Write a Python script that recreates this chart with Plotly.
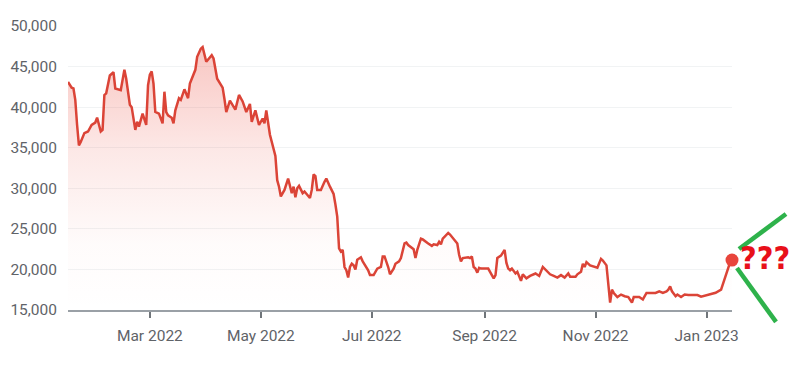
import plotly.graph_objects as go

dates = [
    "2022-01-15", "2022-01-17", "2022-01-18", "2022-01-19", "2022-01-20", "2022-01-21", "2022-01-22", "2022-01-24",
    "2022-01-26", "2022-01-28", "2022-01-30", "2022-01-31", "2022-02-02", "2022-02-03", "2022-02-04", "2022-02-05",
    "2022-02-07", "2022-02-09", "2022-02-10", "2022-02-13", "2022-02-15", "2022-02-16", "2022-02-18", "2022-02-19",
    "2022-02-21", "2022-02-22", "2022-02-23", "2022-02-25", "2022-02-27", "2022-02-28", "2022-03-01", "2022-03-02",
    "2022-03-03", "2022-03-04", "2022-03-06", "2022-03-08", "2022-03-09", "2022-03-10", "2022-03-11", "2022-03-13",
    "2022-03-14", "2022-03-15", "2022-03-17", "2022-03-18", "2022-03-20", "2022-03-22", "2022-03-23", "2022-03-25",
    "2022-03-26", "2022-03-27", "2022-03-29", "2022-03-30", "2022-04-01", "2022-04-04", "2022-04-05", "2022-04-07",
    "2022-04-08", "2022-04-10", "2022-04-11", "2022-04-12", "2022-04-14", "2022-04-16", "2022-04-17", "2022-04-19",
    "2022-04-21", "2022-04-23", "2022-04-25", "2022-04-26", "2022-04-28", "2022-04-30", "2022-05-02", "2022-05-03",
    "2022-05-04", "2022-05-06", "2022-05-07", "2022-05-09", "2022-05-10", "2022-05-11", "2022-05-12", "2022-05-14",
    "2022-05-16", "2022-05-18", "2022-05-19", "2022-05-20", "2022-05-21", "2022-05-22", "2022-05-24", "2022-05-25",
    "2022-05-28", "2022-05-29", "2022-05-30", "2022-05-31", "2022-06-01", "2022-06-03", "2022-06-05", "2022-06-06",
    "2022-06-08", "2022-06-09", "2022-06-10", "2022-06-11", "2022-06-12", "2022-06-13", "2022-06-14", "2022-06-15",
    "2022-06-16", "2022-06-17", "2022-06-18", "2022-06-19", "2022-06-20", "2022-06-21", "2022-06-22", "2022-06-23",
    "2022-06-25", "2022-06-26", "2022-06-28", "2022-06-29", "2022-06-30", "2022-07-02", "2022-07-04", "2022-07-06",
    "2022-07-07", "2022-07-08", "2022-07-10", "2022-07-11", "2022-07-13", "2022-07-14", "2022-07-16", "2022-07-17",
    "2022-07-19", "2022-07-20", "2022-07-21", "2022-07-23", "2022-07-24", "2022-07-25", "2022-07-26", "2022-07-28",
    "2022-07-29", "2022-08-01", "2022-08-03", "2022-08-04", "2022-08-06", "2022-08-07", "2022-08-08", "2022-08-09",
    "2022-08-11", "2022-08-12", "2022-08-13", "2022-08-15", "2022-08-17", "2022-08-18", "2022-08-19", "2022-08-20",
    "2022-08-23", "2022-08-24", "2022-08-25", "2022-08-26", "2022-08-27", "2022-08-28", "2022-08-29", "2022-08-30",
    "2022-09-01", "2022-09-03", "2022-09-04", "2022-09-06", "2022-09-07", "2022-09-08", "2022-09-10", "2022-09-12",
    "2022-09-13", "2022-09-14", "2022-09-15", "2022-09-16", "2022-09-18", "2022-09-19", "2022-09-21", "2022-09-22",
    "2022-09-24", "2022-09-26", "2022-09-29", "2022-10-01", "2022-10-03", "2022-10-05", "2022-10-07", "2022-10-09",
    "2022-10-11", "2022-10-13", "2022-10-15", "2022-10-17", "2022-10-18", "2022-10-21", "2022-10-22", "2022-10-24",
    "2022-10-25", "2022-10-26", "2022-10-27", "2022-10-29", "2022-10-31", "2022-11-02", "2022-11-04", "2022-11-05",
    "2022-11-07", "2022-11-08", "2022-11-09", "2022-11-10", "2022-11-11", "2022-11-13", "2022-11-15", "2022-11-17",
    "2022-11-19", "2022-11-21", "2022-11-22", "2022-11-23", "2022-11-25", "2022-11-27", "2022-11-29", "2022-12-01",
    "2022-12-02", "2022-12-04", "2022-12-06", "2022-12-08", "2022-12-10", "2022-12-11", "2022-12-12", "2022-12-13",
    "2022-12-15", "2022-12-16", "2022-12-18", "2022-12-20", "2022-12-22", "2022-12-24", "2022-12-27", "2022-12-29",
    "2023-01-01", "2023-01-03", "2023-01-06", "2023-01-09", "2023-01-10", "2023-01-12", "2023-01-13", "2023-01-14",
    "2023-01-15",
]

prices = [
    43100, 42400, 42300, 40900, 37800, 35300, 35700, 36800,
    37000, 37800, 38100, 38700, 37000, 37200, 41500, 41700,
    43900, 44300, 42300, 42100, 44600, 43500, 40300, 40000,
    37200, 38200, 37600, 39200, 37800, 42700, 44000, 44400,
    42900, 39400, 39200, 38000, 41900, 39400, 39000, 38700,
    38000, 39600, 41100, 40900, 42200, 41100, 42900, 44200,
    44600, 46200, 47200, 47400, 45600, 46400, 46000, 43500,
    43100, 42400, 41000, 39400, 40800, 40100, 39700, 41500,
    40700, 39400, 40400, 38200, 39600, 37800, 38600, 38000,
    39600, 36600, 35800, 34000, 31000, 30200, 29000, 29800,
    31200, 29400, 30200, 28900, 30000, 30300, 29400, 29600,
    28800, 29800, 31700, 31500, 29800, 29800, 30800, 31200,
    30200, 29800, 29300, 28000, 26500, 22600, 22200, 22400,
    20300, 19900, 19000, 20300, 20700, 20500, 20000, 21200,
    21500, 21000, 20300, 19900, 19300, 19300, 20100, 20300,
    21600, 21600, 20300, 19400, 20100, 20700, 21000, 21400,
    23200, 23300, 23000, 22700, 22500, 21400, 22400, 23800,
    23700, 23200, 22900, 23100, 23000, 23400, 23100, 23800,
    24200, 24500, 24300, 23800, 23200, 21800, 21000, 21400,
    21500, 21400, 21600, 20300, 20100, 19600, 20200, 20100,
    20100, 20100, 19700, 18900, 19300, 21400, 21700, 22400,
    20800, 20100, 19900, 20100, 19500, 19700, 18600, 19400,
    18900, 19200, 19500, 19200, 20300, 19900, 19400, 19200,
    19000, 19300, 19000, 19500, 19100, 19100, 19400, 19700,
    20700, 20300, 20900, 20500, 20300, 20200, 21300, 21100,
    20500, 18300, 15900, 17500, 17100, 16600, 16900, 16700,
    16600, 15900, 16600, 16600, 16600, 16300, 17100, 17100,
    17100, 17100, 17300, 17100, 17300, 17500, 17900, 17300,
    16700, 16900, 16600, 16900, 16850, 16850, 16850, 16650,
    16850, 16970, 17130, 17500, 18200, 19500, 20500, 20900,
    21150,
]

tick_dates = ["2022-03-01", "2022-05-01", "2022-07-01", "2022-09-01", "2022-11-01", "2023-01-01"]
tick_labels = ["Mar 2022", "May 2022", "Jul 2022", "Sep 2022", "Nov 2022", "Jan 2023"]
y_ticks = [15000, 20000, 25000, 30000, 35000, 40000, 45000, 50000]
y_labels = ["15,000", "20,000", "25,000", "30,000", "35,000", "40,000", "45,000", "50,000"]
note_text = "???"

LINE = "#db4437"
FONT = "Roboto, Arial, sans-serif"
FS = 15.5

fig = go.Figure()
fig.add_trace(go.Scatter(
    x=dates, y=prices, mode="lines",
    line=dict(color=LINE, width=2.5),
    fill="tozeroy",
    fillgradient=dict(
        type="vertical",
        start=15000, stop=47500,
        colorscale=[[0, "rgba(234,67,53,0)"], [0.25, "rgba(234,67,53,0.02)"],
                    [0.6, "rgba(234,67,53,0.12)"], [1, "rgba(234,67,53,0.30)"]],
    ),
    hoverinfo="skip", showlegend=False,
))
fig.add_trace(go.Scatter(
    x=[dates[-1]], y=[prices[-1]], mode="markers",
    marker=dict(color="#e8453c", size=13),
    cliponaxis=False, hoverinfo="skip", showlegend=False,
))

# green "breakout" strokes and question marks outside the plot
fig.add_shape(type="line", xref="paper", yref="paper", x0=1.0105, y0=0.215, x1=1.0813, y1=0.338,
              line=dict(color="#2eb24b", width=4.5))
fig.add_shape(type="line", xref="paper", yref="paper", x0=1.0075, y0=0.148, x1=1.0663, y1=-0.042,
              line=dict(color="#2eb24b", width=4.5))
fig.add_annotation(text="<b>" + note_text + "</b>", xref="paper", yref="paper", x=1.0495, y=0.183,
                   showarrow=False, xanchor="center", yanchor="middle",
                   font=dict(family="Liberation Sans Narrow, DejaVu Sans Condensed, sans-serif",
                             size=32, color="#e8101a"))

fig.update_layout(
    width=792, height=372,
    margin=dict(l=68, r=60, t=26, b=62),
    paper_bgcolor="white", plot_bgcolor="white",
    font=dict(family=FONT, size=FS, color="#5f6368"),
    xaxis=dict(
        range=[dates[0], dates[-1]],
        tickvals=tick_dates, ticktext=tick_labels,
        showgrid=False, zeroline=False, automargin=False,
        showline=True, linecolor="#9aa0a6", linewidth=1.5,
        ticks="outside", ticklen=6, tickwidth=2, tickcolor="#70757a",
        ticklabelstandoff=5,
        tickfont=dict(family=FONT, size=FS, color="#5f6368"),
    ),
    yaxis=dict(
        range=[15000, 50000],
        tickvals=y_ticks, ticktext=y_labels,
        showgrid=True, gridcolor="#f1f3f4", gridwidth=1,
        zeroline=False, showline=False, ticks="", automargin=False,
        ticklabelstandoff=10,
        tickfont=dict(family=FONT, size=FS, color="#5f6368"),
    ),
)

fig.write_html("out.html", config={"displayModeBar": False})
